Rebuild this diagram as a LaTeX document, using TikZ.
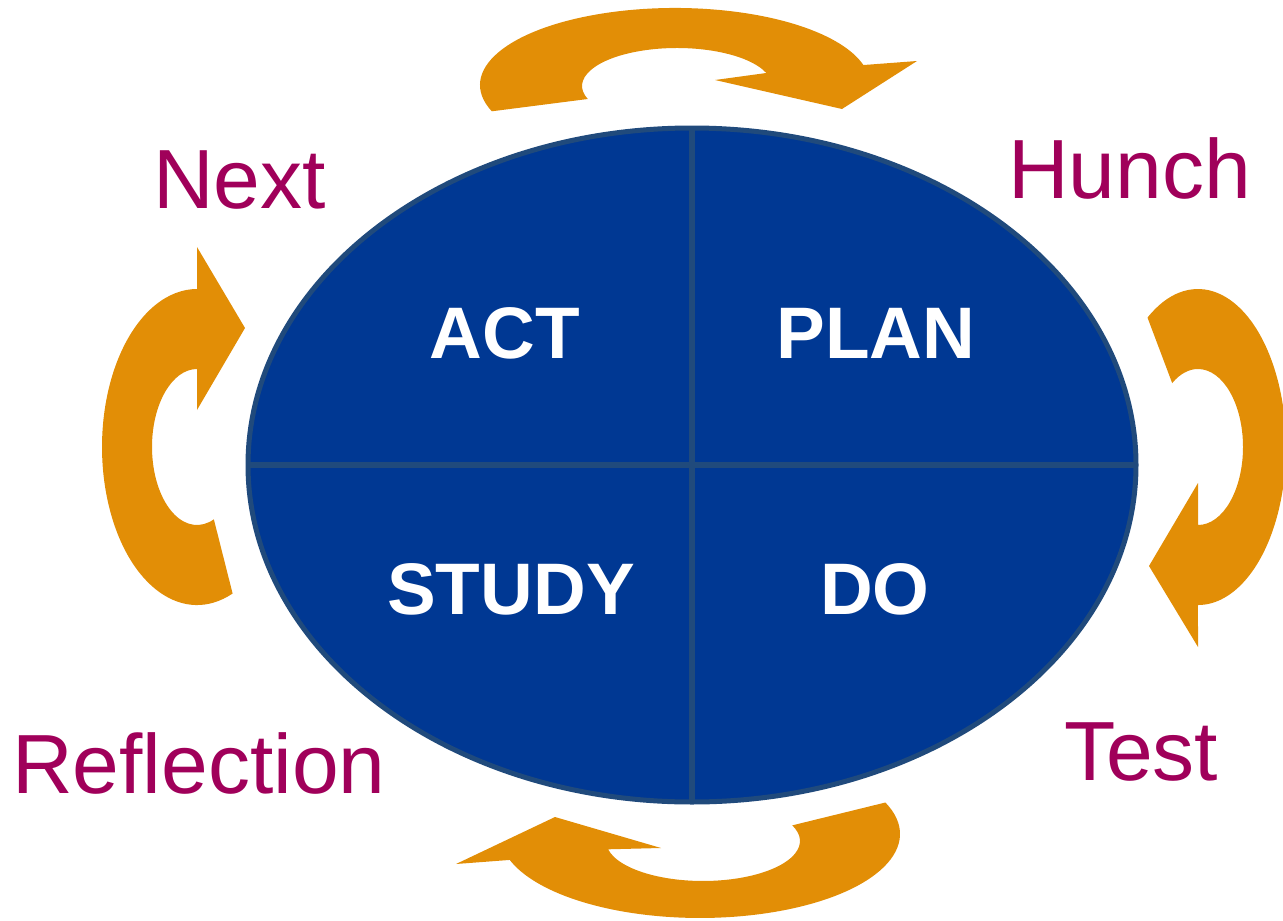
\documentclass[tikz,border=0pt]{standalone}
\usepackage{fontspec}
\setmainfont{Liberation Sans}
\usetikzlibrary{shapes.geometric}
\definecolor{cycleblue}{RGB}{0,56,147}
\definecolor{cycleline}{RGB}{32,74,124}
\definecolor{stagepurple}{RGB}{160,0,90}
\definecolor{turnorange}{RGB}{226,142,6}
\begin{document}
\begin{tikzpicture}[x=1pt,y=-1pt]
    \tikzset{quarter/.style = {text=white, font=\fontsize{73}{80}\selectfont\bfseries, anchor=base, inner sep=0}}
    \tikzset{stage/.style = {text=stagepurple, font=\fontsize{84}{90}\selectfont, anchor=base west, inner sep=0}}
    \tikzset{turn/.style = {fill=turnorange}}
    \useasboundingbox (0,0) rectangle (1283,921);
    % the cycle
    \node[ellipse, draw=cycleline, fill=cycleblue, line width=5pt, minimum width=888pt, minimum height=674pt, outer sep=0] (cycle) at (692,465) {};
    \draw[cycleline, line width=5.5pt] (cycle.north) -- (cycle.south);
    \draw[cycleline, line width=5.5pt] (cycle.west) -- (cycle.east);
    \node[quarter] (act) at (505,358) {ACT};
    \node[quarter] (plan) at (876,358) {PLAN};
    \node[quarter] (study) at (511,614) {STUDY};
    \node[quarter] (do) at (875,614) {DO};
    % stages
    \node[stage] (next) at (153,208) {Next};
    \node[stage] (hunch) at (1008,198) {Hunch};
    \node[stage] (reflection) at (12,793) {Reflection};
    \node[stage] (test) at (1064,780) {Test};
    % turning arrows
    \fill[turn] (491.8,111.3) arc[start angle=160, end angle=345, x radius=195, y radius=77]
        -- (917,61) -- (842,109) -- (715,80) -- (766.3,73)
        arc[start angle=340, end angle=160, x radius=95, y radius=38] -- cycle;
    \fill[turn] (1147.5,317.6) arc[start angle=235, end angle=450, x radius=88, y radius=158]
        -- (1198,647) -- (1149,566) -- (1198,483) -- (1198,525)
        arc[start angle=450, end angle=235, x radius=45, y radius=78] -- cycle;
    \fill[turn] (885.4,802.5) arc[start angle=-22, end angle=162, x radius=200, y radius=84]
        -- (456,864) -- (555,817) -- (661,848) -- (608.1,849.3)
        arc[start angle=168, end angle=-23, x radius=97, y radius=40] -- cycle;
    \fill[turn] (232.6,593.5) arc[start angle=68, end angle=270, x radius=95, y radius=158]
        -- (197,247) -- (245,328) -- (197,410) -- (197,369)
        arc[start angle=270, end angle=68, x radius=45, y radius=78] -- cycle;
\end{tikzpicture}
\end{document}
